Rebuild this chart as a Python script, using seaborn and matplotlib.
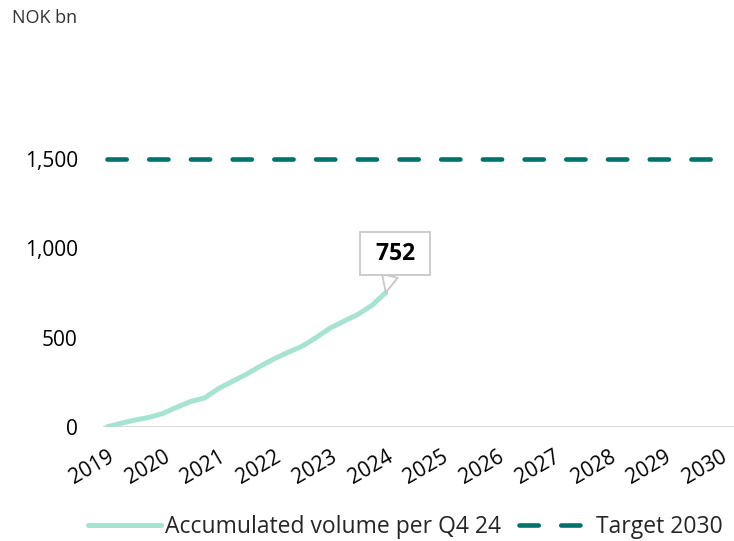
import numpy as np
import pandas as pd
import seaborn as sns
import matplotlib.pyplot as plt

# quarterly accumulated volume, NOK bn (Q4 2019 .. Q4 2024)
quarters = [2019.0, 2019.25, 2019.5, 2019.75, 2020.0, 2020.25, 2020.5, 2020.75,
            2021.0, 2021.25, 2021.5, 2021.75, 2022.0, 2022.25, 2022.5, 2022.75,
            2023.0, 2023.25, 2023.5, 2023.75, 2024.0]
volume = [0, 20, 38, 53, 75, 110, 142, 162, 215, 255, 295, 340, 382, 418, 452,
          500, 553, 592, 630, 680, 752]
target_years = [2019, 2030]
target_value = [1500, 1500]
years = list(range(2019, 2031))

LIGHT = '#a6e3d2'
DARK = '#00716b'

sns.set_theme(style='white')
plt.rcParams['font.family'] = ['Open Sans', 'DejaVu Sans']

acc = pd.DataFrame({'year': quarters, 'value': volume})
tgt = pd.DataFrame({'year': target_years, 'value': target_value})

fig = plt.figure(figsize=(7.34, 5.41), dpi=100)
ax = fig.add_axes([0.14, 0.211, 0.86, 0.66])

sns.lineplot(data=acc, x='year', y='value', ax=ax, color=LIGHT, linewidth=3.6,
             solid_capstyle='round', label='Accumulated volume per Q4 24')
sns.lineplot(data=tgt, x='year', y='value', ax=ax, color=DARK, linewidth=3.3,
             dashes=False, label='Target 2030')
ax.lines[-1].set_dashes((4.2, 4.9))
ax.lines[-1].set_dash_capstyle('round')

ax.axhline(0, color='#d9d9d9', linewidth=1.5, zorder=0)

ax.set_xlim(2018.92, 2030.25)
ax.set_ylim(0, 2000)
ax.set_yticks([0, 500, 1000, 1500])
ax.set_yticklabels(['0', '500', '1,000', '1,500'])
ax.set_xticks(years)
ax.set_xticklabels([str(y) for y in years], rotation=30, ha='right',
                   rotation_mode='anchor')
ax.tick_params(axis='y', length=0, pad=18, labelsize=15, colors='black')
ax.tick_params(axis='x', length=0, pad=14, labelsize=15, colors='black')
ax.set_xlabel('')
ax.set_ylabel('')
sns.despine(ax=ax, left=True, bottom=True)

ax.annotate(f' {volume[-1]} ', xy=(quarters[-1], volume[-1]),
            xytext=(2024.17, 970), ha='center', va='center',
            fontsize=16.5, fontweight='bold', color='black',
            bbox=dict(boxstyle='square,pad=0.42', fc='white', ec='#c8c8c8', lw=1.3),
            arrowprops=dict(arrowstyle='wedge,tail_width=0.7', fc='white',
                            ec='#c8c8c8', lw=1.3, shrinkA=0, shrinkB=0))

fig.text(0.016, 0.967, 'NOK bn', fontsize=13, color='#333333', va='center')

ax.legend(loc='center', bbox_to_anchor=(0.552, 0.026),
          bbox_transform=fig.transFigure, ncol=2, frameon=False,
          fontsize=16.5, handlelength=3.2, handletextpad=0.15,
          columnspacing=0.8, borderpad=0)

fig.savefig('out.png', dpi=100)
